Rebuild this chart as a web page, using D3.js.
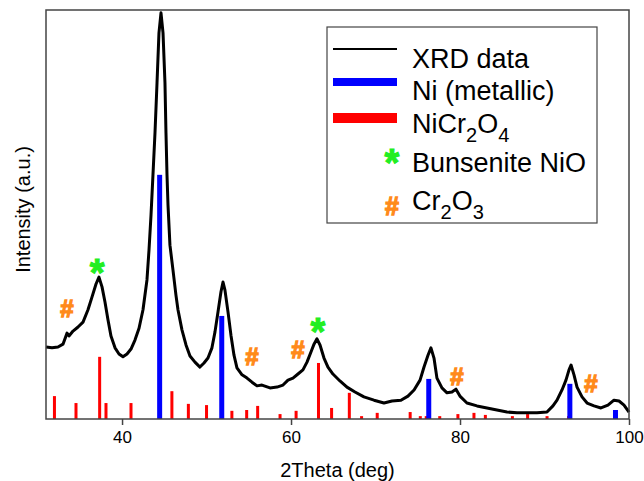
<!DOCTYPE html>
<html lang="en">
<head>
<meta charset="utf-8">
<title>XRD pattern</title>
<script src="https://d3js.org/d3.v7.min.js"></script>
<style>
body { margin: 0; background: #fff; }
text { font-family: "Liberation Sans", Arial, sans-serif; fill: #000; }
</style>
</head>
<body>
<div id="chart"></div>
<script>

// measured XRD pattern: [2theta (deg), intensity (a.u.)]
var xrdPoints = [
  [31.00,17.6],[31.71,17.4],[32.42,17.6],[33.01,18.3],[33.49,21.0],[33.72,20.3],[34.20,21.5],[34.79,22.5],
  [35.38,23.7],[35.97,26.7],[36.44,29.8],[36.92,33.0],[37.27,34.7],[37.63,32.3],[37.98,28.6],[38.34,24.2],
  [38.69,20.3],[39.17,17.4],[39.64,15.9],[40.11,15.2],[40.59,15.9],[41.06,17.1],[41.53,19.3],[42.01,22.2],
  [42.48,26.7],[42.95,34.0],[43.19,41.3],[43.43,49.9],[43.66,59.7],[43.90,70.0],[44.14,82.2],[44.37,94.4],
  [44.61,99.3],[44.85,94.4],[45.08,82.2],[45.20,70.0],[45.32,59.7],[45.44,52.3],[45.67,42.5],[46.03,36.4],
  [46.38,30.3],[46.62,26.7],[47.09,21.8],[47.57,18.1],[48.04,15.4],[48.63,13.9],[49.22,12.7],[49.70,13.7],
  [50.17,14.9],[50.64,17.4],[51.00,21.3],[51.36,26.2],[51.71,31.1],[51.95,33.5],[52.18,31.5],[52.54,26.2],
  [52.89,20.5],[53.25,15.6],[53.60,12.5],[54.20,10.8],[54.79,10.0],[55.38,9.0],[55.97,8.1],[56.56,8.3],
  [57.51,7.6],[58.34,7.8],[59.05,8.3],[59.64,9.5],[60.23,10.0],[60.82,11.0],[61.41,12.0],[61.89,13.9],
  [62.36,16.4],[62.72,18.3],[63.07,19.6],[63.43,18.1],[63.90,14.9],[64.37,12.7],[64.96,11.0],[65.79,9.3],
  [66.62,7.8],[67.57,6.6],[68.63,5.4],[69.82,4.6],[71.00,3.9],[71.95,4.4],[73.01,4.6],[73.84,5.6],
  [74.56,7.1],[75.27,9.5],[75.74,12.7],[76.21,15.6],[76.56,17.4],[76.92,14.9],[77.27,10.0],[77.86,7.6],
  [78.46,6.4],[79.05,6.6],[79.52,7.3],[79.99,5.6],[80.82,3.9],[82.01,3.2],[83.19,2.7],[84.37,2.2],
  [85.56,1.7],[86.74,1.5],[87.92,1.5],[89.11,1.5],[90.29,1.7],[91.00,3.2],[91.48,4.6],[92.07,7.1],
  [92.54,9.5],[92.90,12.0],[93.14,13.2],[93.49,10.8],[93.85,7.8],[94.44,5.4],[95.04,3.9],[95.86,3.2],
  [96.68,2.7],[97.51,3.4],[98.22,4.6],[98.82,4.4],[99.41,3.4],[100.00,1.7]
];

// reference sticks
var niTheta = [44.45, 51.8, 76.3, 93.0, 98.4];
var niInt   = [59.7, 25.2, 9.8, 8.6, 2.2];

var spinelTheta = [32.0, 34.55, 37.35, 38.1, 41.06, 45.9, 47.85, 50.0, 53.0, 54.75, 56.05, 58.7, 60.6,
                   63.25, 64.8, 66.9, 68.35, 70.2, 74.1, 75.3, 76.0, 77.6, 79.75, 81.65, 83.0, 86.2, 88.0, 90.3, 92.85];
var spinelInt   = [5.6, 3.9, 15.2, 3.9, 3.9, 6.8, 3.7, 3.4, 2.0, 2.2, 3.2, 1.2, 2.0,
                   13.7, 2.7, 6.4, 0.7, 1.5, 1.7, 0.7, 0.7, 0.7, 1.2, 1.5, 1.0, 0.7, 1.2, 0.7, 0.7];

// phase markers
var nioTheta = [37.04, 63.19];
var nioInt   = [37.7, 23.2];
var cr2o3Theta = [33.49, 55.38, 60.82, 79.64, 95.50];
var cr2o3Int   = [26.9, 15.4, 16.9, 10.3, 8.6];

var xTicks = [40, 60, 80, 100];

var margin = {top: 10, right: 15, bottom: 62, left: 46},
    width = 644 - margin.left - margin.right,
    height = 481 - margin.top - margin.bottom;

var svg = d3.select("#chart").append("svg")
    .attr("width", 644).attr("height", 481)
  .append("g")
    .attr("transform", "translate(" + margin.left + "," + margin.top + ")");

var x = d3.scaleLinear().domain([31, 100]).range([0, width]);
var y = d3.scaleLinear().domain([0, 100]).range([height, 0]);

// NiCr2O4 sticks
svg.append("g").selectAll("rect")
  .data(spinelTheta)
  .enter().append("rect")
    .attr("x", function(d) { return x(d) - 1.5; })
    .attr("y", function(d, i) { return y(spinelInt[i]); })
    .attr("width", 3)
    .attr("height", function(d, i) { return height - y(spinelInt[i]); })
    .attr("fill", "#ff0000");

// Ni sticks
svg.append("g").selectAll("rect")
  .data(niTheta)
  .enter().append("rect")
    .attr("x", function(d) { return x(d) - 2.5; })
    .attr("y", function(d, i) { return y(niInt[i]); })
    .attr("width", 5)
    .attr("height", function(d, i) { return height - y(niInt[i]); })
    .attr("fill", "#0000ff");

// XRD curve
var line = d3.line()
    .x(function(d) { return x(d[0]); })
    .y(function(d) { return y(d[1]); });

svg.append("path")
    .datum(xrdPoints)
    .attr("d", line)
    .attr("fill", "none")
    .attr("stroke", "#000")
    .attr("stroke-width", 3)
    .attr("stroke-linejoin", "round");

// markers
svg.append("g").selectAll("text")
  .data(nioTheta)
  .enter().append("text")
    .attr("x", function(d) { return x(d); })
    .attr("y", function(d, i) { return y(nioInt[i]) + 21; })
    .attr("text-anchor", "middle")
    .style("font-size", "38px").style("font-weight", "bold")
    .style("fill", "#22ee22").style("stroke", "#22ee22").style("stroke-width", 1)
    .text("*");

svg.append("g").selectAll("text")
  .data(cr2o3Theta)
  .enter().append("text")
    .attr("x", function(d) { return x(d); })
    .attr("y", function(d, i) { return y(cr2o3Int[i]) + 8.5; })
    .attr("text-anchor", "middle")
    .style("font-size", "24px").style("font-weight", "bold")
    .style("fill", "#ff8a1a").style("stroke", "#ff8a1a").style("stroke-width", 1.3)
    .text("#");

// x axis
var xAxis = svg.append("g")
    .attr("transform", "translate(0," + height + ")")
    .call(d3.axisBottom(x).tickValues(xTicks).tickSize(6).tickSizeOuter(0).tickPadding(6));
xAxis.select(".domain").remove();
xAxis.selectAll("line").attr("stroke", "#444").attr("stroke-width", 1.5);
xAxis.selectAll("text").style("font-size", "17px").style("font-family", "Liberation Sans, Arial, sans-serif").attr("fill", "#000");

// frame
svg.append("rect")
    .attr("x", 0).attr("y", 0)
    .attr("width", width).attr("height", height)
    .attr("fill", "none")
    .attr("stroke", "#444")
    .attr("stroke-width", 1.5);

svg.append("text")
    .attr("x", width / 2)
    .attr("y", height + 58)
    .attr("text-anchor", "middle")
    .style("font-size", "20px")
    .text("2Theta (deg)");

svg.append("text")
    .attr("transform", "rotate(-90)")
    .attr("x", -(height / 2) + 5)
    .attr("y", -16)
    .attr("text-anchor", "middle")
    .style("font-size", "20px")
    .text("Intensity (a.u.)");

// legend
var lg = svg.append("g").attr("transform", "translate(281,17)");
lg.append("rect").attr("x", 0).attr("y", 0).attr("width", 270).attr("height", 196)
    .attr("fill", "#fff").attr("stroke", "#444").attr("stroke-width", 1.2);

lg.append("line").attr("x1", 6).attr("x2", 70).attr("y1", 22).attr("y2", 22)
    .attr("stroke", "#000").attr("stroke-width", 2);
lg.append("line").attr("x1", 6).attr("x2", 70).attr("y1", 55).attr("y2", 55)
    .attr("stroke", "#0000ff").attr("stroke-width", 8);
lg.append("line").attr("x1", 6).attr("x2", 70).attr("y1", 91).attr("y2", 91)
    .attr("stroke", "#ff0000").attr("stroke-width", 10);
lg.append("text").attr("x", 65).attr("y", 149).attr("text-anchor", "middle")
    .style("font-size", "38px").style("font-weight", "bold")
    .style("fill", "#22ee22").style("stroke", "#22ee22").style("stroke-width", 1).text("*");
lg.append("text").attr("x", 65).attr("y", 188).attr("text-anchor", "middle")
    .style("font-size", "25px").style("font-weight", "bold")
    .style("fill", "#ff8a1a").style("stroke", "#ff8a1a").style("stroke-width", 1.3).text("#");

var fs = "27px";
lg.append("text").attr("x", 85).attr("y", 41).style("font-size", fs).text("XRD data");
lg.append("text").attr("x", 85).attr("y", 73).style("font-size", fs).text("Ni (metallic)");
var t3 = lg.append("text").attr("x", 85).attr("y", 106).style("font-size", fs);
t3.append("tspan").text("NiCr");
t3.append("tspan").attr("dy", 9).style("font-size", "20px").text("2");
t3.append("tspan").attr("dy", -9).text("O");
t3.append("tspan").attr("dy", 9).style("font-size", "20px").text("4");
lg.append("text").attr("x", 85).attr("y", 145).style("font-size", fs).text("Bunsenite NiO");
var t5 = lg.append("text").attr("x", 85).attr("y", 183).style("font-size", fs);
t5.append("tspan").text("Cr");
t5.append("tspan").attr("dy", 9).style("font-size", "20px").text("2");
t5.append("tspan").attr("dy", -9).text("O");
t5.append("tspan").attr("dy", 9).style("font-size", "20px").text("3");

</script>
</body>
</html>
